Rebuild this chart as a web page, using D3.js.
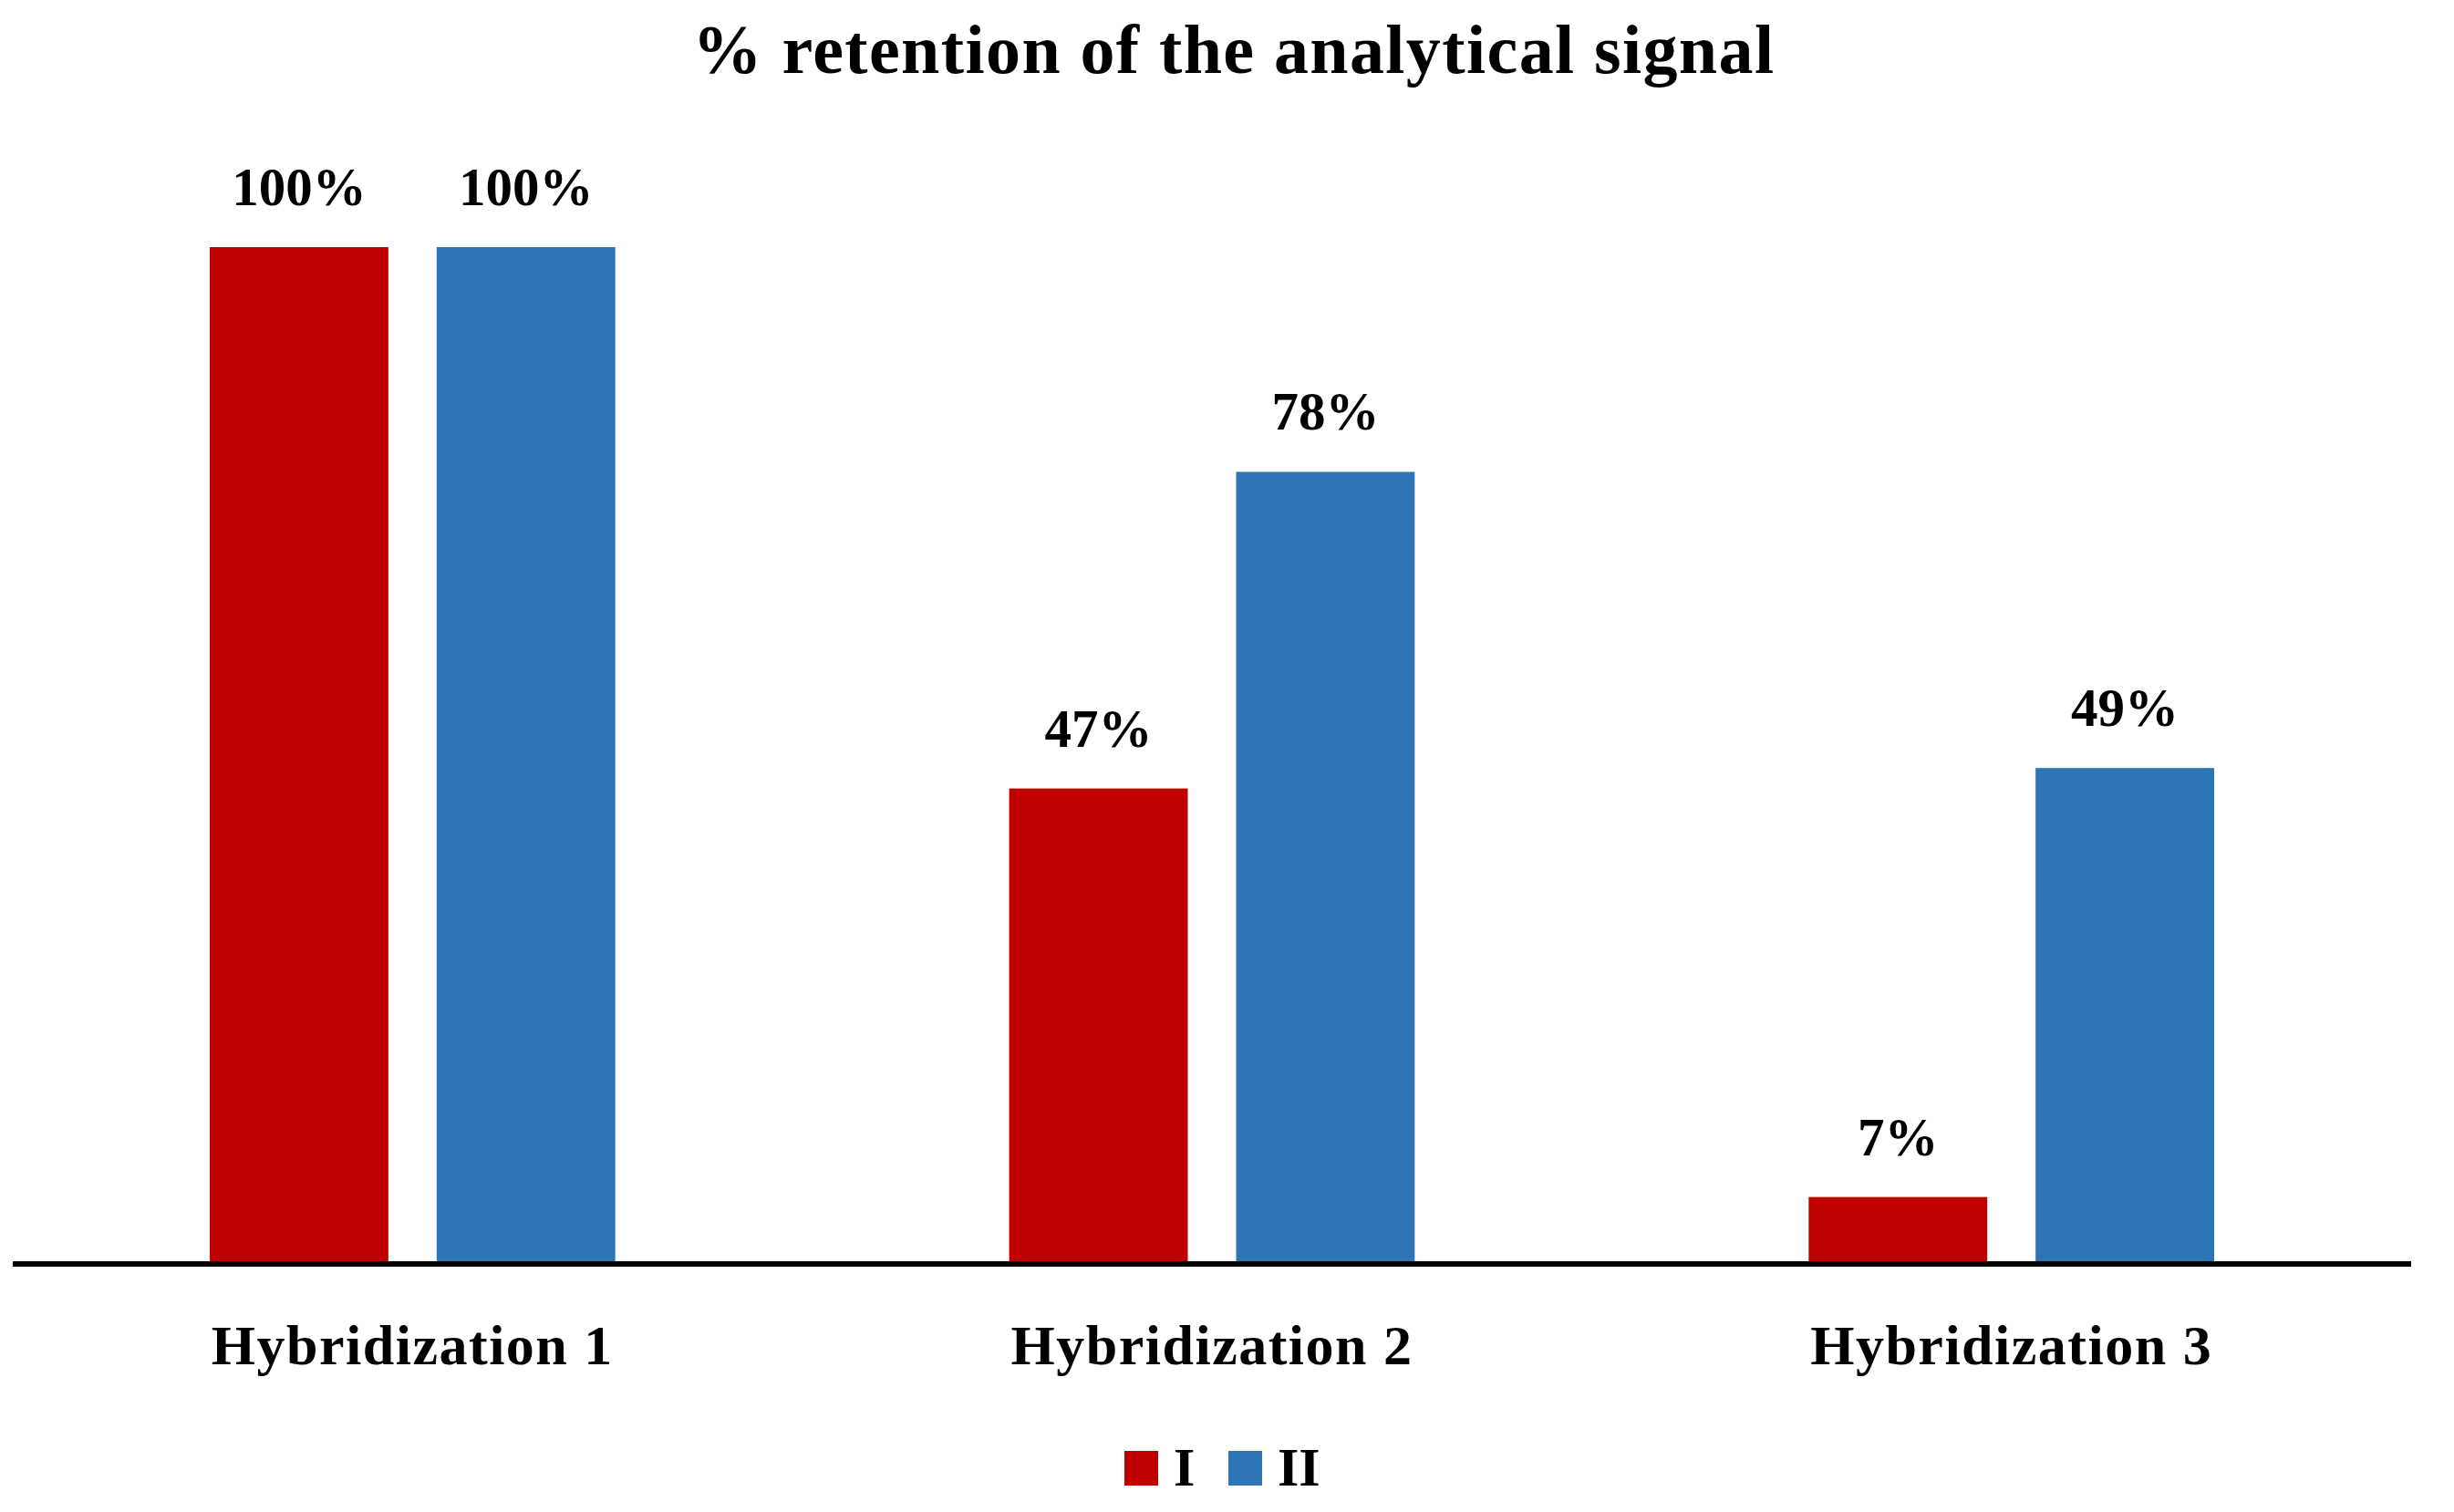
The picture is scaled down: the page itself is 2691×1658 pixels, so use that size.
<!DOCTYPE html>
<html>
<head>
<meta charset="utf-8">
<script src="https://cdn.jsdelivr.net/npm/d3@7"></script>
<style>
  html, body { margin: 0; padding: 0; background: #fff; }
  svg { display: block; }
  text { font-family: "Liberation Serif", "DejaVu Serif", serif; font-weight: bold; fill: #000; }
</style>
</head>
<body>
<script>
const categories = ["Hybridization 1", "Hybridization 2", "Hybridization 3"];
const seriesNames = ["I", "II"];
const seriesI = [100, 47, 7];
const seriesII = [100, 78, 49];
const colors = ["#C00000", "#2E75B6"];
const title = "% retention of the analytical signal";

const W = 2691, H = 1658;
const svg = d3.select("body").append("svg").attr("width", W).attr("height", H);

const plotLeft = 14, plotRight = 2644, axisY = 1386, zeroY = 1391, topY = 271;

const x0 = d3.scaleBand().domain(categories).range([plotLeft, plotRight]).padding(0);
const x1 = d3.scaleBand().domain(seriesNames).range([0, x0.bandwidth()])
  .paddingInner(0.213).paddingOuter(0.868);
const y = d3.scaleLinear().domain([0, 100]).range([zeroY, topY]);

const data = categories.map((c, i) => ({ cat: c, vals: [seriesI[i], seriesII[i]] }));

// Title
svg.append("text")
  .attr("x", 1353).attr("y", 80)
  .attr("text-anchor", "middle")
  .style("font-size", "76px")
  .style("letter-spacing", "1.4px")
  .text(title);

const g = svg.selectAll("g.grp").data(data).enter().append("g")
  .attr("class", "grp")
  .attr("transform", d => `translate(${x0(d.cat)},0)`);

g.selectAll("rect").data(d => d.vals.map((v, j) => ({ s: seriesNames[j], v, j })))
  .enter().append("rect")
  .attr("x", d => x1(d.s))
  .attr("width", x1.bandwidth())
  .attr("y", d => y(d.v))
  .attr("height", d => axisY - y(d.v))
  .attr("fill", d => colors[d.j]);

g.selectAll("text.lbl").data(d => d.vals.map((v, j) => ({ s: seriesNames[j], v, j })))
  .enter().append("text")
  .attr("class", "lbl")
  .attr("x", d => x1(d.s) + x1.bandwidth() / 2)
  .attr("y", d => y(d.v) - 46)
  .attr("text-anchor", "middle")
  .style("font-size", "59px")
  .text(d => d.v + "%");

// Axis
const axis = d3.axisBottom(x0).tickSize(0).tickPadding(0);
const ax = svg.append("g").attr("transform", `translate(0,${axisY})`).call(axis);
ax.select(".domain").attr("stroke", "#000").attr("stroke-width", 6)
  .attr("d", `M${plotLeft},0H${plotRight}`);
ax.selectAll(".tick text")
  .attr("y", 110).attr("dy", 0)
  .style("font-family", "'Liberation Serif', serif")
  .style("font-weight", "bold")
  .style("font-size", "62px")
  .style("letter-spacing", "1.5px")
  .attr("fill", "#000");

// Legend
const legend = svg.append("g");
const legX = [1233, 1347];
seriesNames.forEach((s, i) => {
  legend.append("rect").attr("x", legX[i]).attr("y", 1591).attr("width", 37).attr("height", 38).attr("fill", colors[i]);
  legend.append("text").attr("x", legX[i] + 54).attr("y", 1629)
    .style("font-size", "60px").text(s);
});
</script>
</body>
</html>
